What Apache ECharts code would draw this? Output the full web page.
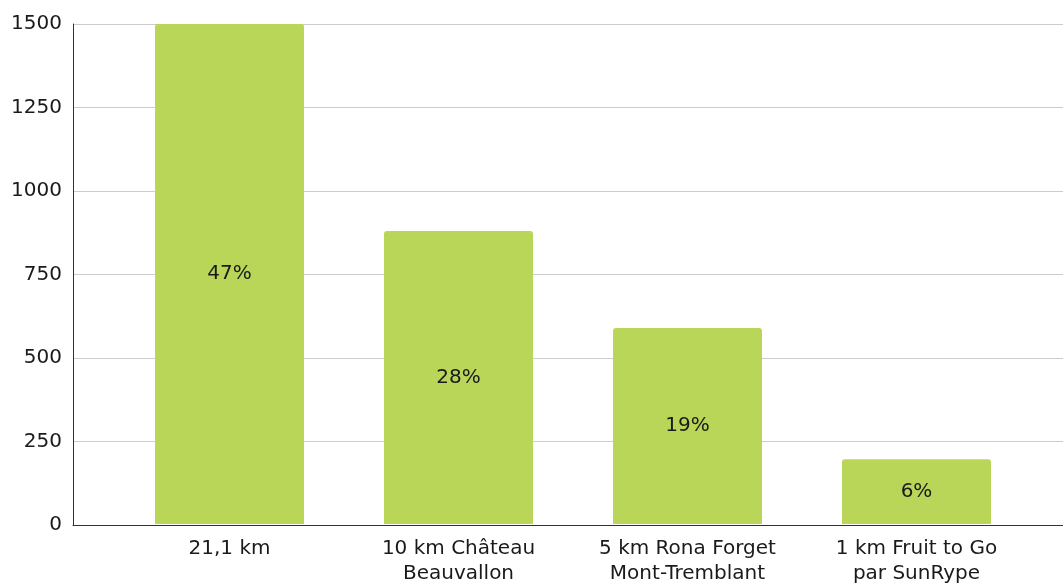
<!DOCTYPE html>
<html>
<head>
<meta charset="utf-8">
<script src="https://cdn.jsdelivr.net/npm/echarts@6/dist/echarts.min.js"></script>
<style>
html,body{margin:0;padding:0;background:#fff;}
#chart{width:1063px;height:586px;}
</style>
</head>
<body>
<div id="chart"></div>
<script>
var categories = ["21,1 km", "10 km Château\nBeauvallon", "5 km Rona Forget\nMont-Tremblant", "1 km Fruit to Go\npar SunRype"];
var values = [1500, 879, 588, 194];
var yTicks = [0, 250, 500, 750, 1000, 1250, 1500];

var total = values.reduce(function (a, b) { return a + b; }, 0);
var FONT = 'DejaVu Sans';
var chart = echarts.init(document.getElementById('chart'), null, {renderer: 'canvas'});
chart.setOption({
  animation: false,
  backgroundColor: '#ffffff',
  grid: [
    {left: 73, right: 0, top: 24, bottom: 61},
    {left: 115, width: 916, top: 24, bottom: 61}
  ],
  xAxis: [
    {
      type: 'category', gridIndex: 0, data: categories,
      axisLine: {show: true, lineStyle: {color: '#333333', width: 1}},
      axisTick: {show: false}, axisLabel: {show: false}, splitLine: {show: false}
    },
    {
      type: 'category', gridIndex: 1, data: categories,
      axisLine: {show: false}, axisTick: {show: false},
      axisLabel: {show: true, interval: 0, margin: 12, color: '#1a1a1a', fontFamily: FONT, fontSize: 20, lineHeight: 25}
    }
  ],
  yAxis: [
    {
      type: 'value', gridIndex: 0, min: yTicks[0], max: yTicks[yTicks.length - 1], interval: yTicks[1] - yTicks[0],
      axisLine: {show: true, lineStyle: {color: '#333333', width: 1}},
      axisTick: {show: false},
      axisLabel: {margin: 11, color: '#1a1a1a', fontFamily: FONT, fontSize: 20,
        formatter: function (v) { return String(v); }},
      splitLine: {show: true, lineStyle: {color: '#cccccc', width: 1}}
    },
    {
      type: 'value', gridIndex: 1, min: yTicks[0], max: yTicks[yTicks.length - 1], interval: yTicks[1] - yTicks[0],
      show: false, splitLine: {show: false}
    }
  ],
  series: [{
    type: 'bar', xAxisIndex: 1, yAxisIndex: 1, data: values,
    barWidth: 149,
    itemStyle: {color: '#b9d659', borderRadius: [3, 3, 0, 0]},
    label: {
      show: true, position: 'inside', color: '#1a1a1a', fontFamily: FONT, fontSize: 20,
      formatter: function (p) { return Math.round(p.value / total * 100) + '%'; }
    }
  }]
});
</script>
</body>
</html>
